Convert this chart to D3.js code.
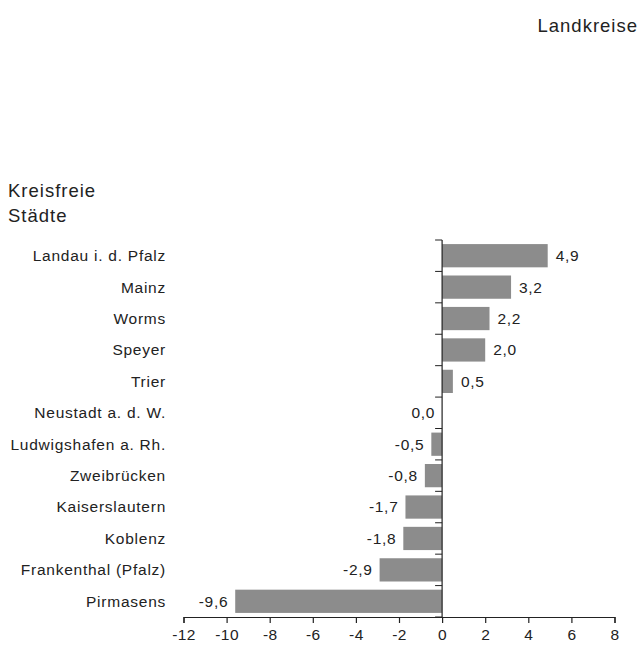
<!DOCTYPE html>
<meta charset="utf-8">
<html>
<body style="margin:0; background-color: white;">
<script src="https://d3js.org/d3.v7.min.js"></script>
<div id="chart"></div>
<script>

    // data
    var cities = ["Landau i. d. Pfalz", "Mainz", "Worms", "Speyer", "Trier", "Neustadt a. d. W.",
      "Ludwigshafen a. Rh.", "Zweibrücken", "Kaiserslautern", "Koblenz", "Frankenthal (Pfalz)", "Pirmasens"];
    var values = [4.9, 3.2, 2.2, 2.0, 0.5, 0.0, -0.5, -0.8, -1.7, -1.8, -2.9, -9.6];
    var xTicks = [-12, -10, -8, -6, -4, -2, 0, 2, 4, 6, 8];

    var width = 640, height = 648;
    var font = "'Liberation Sans', Arial, Helvetica, sans-serif";
    var ink = "#222";

    var svg = d3.select("#chart")
      .append("svg")
        .attr("width", width)
        .attr("height", height)
        .style("font-family", font);

    var x = d3.scaleLinear().domain([-12, 8]).range([183.5, 614.5]);
    var y = d3.scaleBand().domain(cities).range([240, 617]).paddingInner(0.26).paddingOuter(0.13);

    var fmt = function(v) { return d3.format(".1f")(v).replace(".", ",").replace("−", "-"); };

    // bars
    svg.selectAll("rect.bar")
      .data(values)
      .enter()
      .append("rect")
        .attr("class", "bar")
        .attr("x", function(d) { return x(Math.min(0, d)); })
        .attr("y", function(d, i) { return y(cities[i]); })
        .attr("width", function(d) { return Math.abs(x(d) - x(0)); })
        .attr("height", y.bandwidth())
        .attr("fill", "#8c8c8c");

    // value labels
    svg.selectAll("text.val")
      .data(values)
      .enter()
      .append("text")
        .attr("class", "val")
        .attr("x", function(d) { return d > 0 ? x(d) + 8 : x(d) - 7; })
        .attr("y", function(d, i) { return y(cities[i]) + y.bandwidth() / 2; })
        .attr("dy", "0.35em")
        .attr("text-anchor", function(d) { return d > 0 ? "start" : "end"; })
        .attr("font-size", "15.5px")
        .attr("letter-spacing", "0.7px")
        .attr("fill", ink)
        .text(function(d) { return fmt(d); });

    // category labels
    svg.selectAll("text.cat")
      .data(cities)
      .enter()
      .append("text")
        .attr("class", "cat")
        .attr("x", 166)
        .attr("y", function(d) { return y(d) + y.bandwidth() / 2; })
        .attr("dy", "0.35em")
        .attr("text-anchor", "end")
        .attr("font-size", "15.5px")
        .attr("letter-spacing", "0.75px")
        .attr("fill", ink)
        .text(function(d) { return d; });

    // vertical zero line with ticks between categories
    var yTicks = d3.range(cities.length + 1).map(function(i) { return 240 + i * (377 / cities.length); });
    svg.append("line")
      .attr("x1", x(0)).attr("x2", x(0))
      .attr("y1", 240).attr("y2", 617)
      .attr("stroke", ink).attr("stroke-width", 1.2);
    svg.selectAll("line.ytick")
      .data(yTicks)
      .enter()
      .append("line")
        .attr("class", "ytick")
        .attr("x1", x(0) - 7).attr("x2", x(0))
        .attr("y1", function(d) { return d; })
        .attr("y2", function(d) { return d; })
        .attr("stroke", ink).attr("stroke-width", 1);

    // x axis
    var xAxis = svg.append("g")
      .attr("transform", "translate(0,617)")
      .call(d3.axisBottom(x).tickValues(xTicks).tickSize(6).tickPadding(6)
        .tickFormat(function(d) { return String(d); }));
    xAxis.selectAll("path, line").attr("stroke", ink).attr("stroke-width", 1.2);
    xAxis.selectAll("text")
      .attr("font-size", "15.5px")
      .attr("letter-spacing", "0.4px")
      .attr("font-family", font)
      .attr("fill", ink);

    // headings
    var head = function(tx, hx, hy, anchor) {
      svg.append("text")
        .attr("x", hx).attr("y", hy)
        .attr("text-anchor", anchor)
        .attr("font-size", "18.5px")
        .attr("letter-spacing", "1px")
        .attr("fill", ink)
        .text(tx);
    };
    head("Kreisfreie", 8, 197, "start");
    head("Städte", 8, 222, "start");
    head("Landkreise", 638, 32, "end");

</script>
</body>
</html>
